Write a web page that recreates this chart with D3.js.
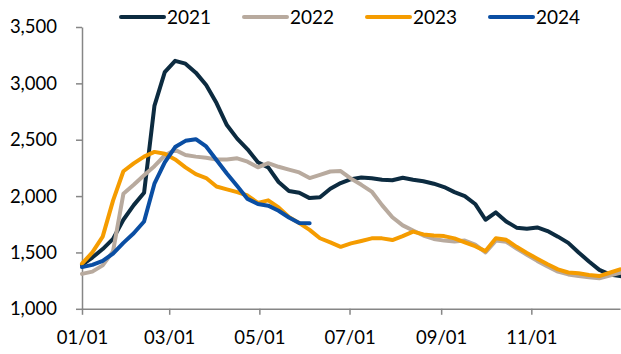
<!DOCTYPE html>
<html>
<head>
<meta charset="utf-8">
<script src="https://cdn.jsdelivr.net/npm/d3@7"></script>
<style>
  html, body { margin: 0; padding: 0; background: #fff; }
  svg { display: block; font-family: Lato, "Noto Sans", sans-serif; }
</style>
</head>
<body>
<div id="chart"></div>
<script>
// ---- data (weekly observations, week 0 = 01/01) ----
const seriesNames = ["2021", "2022", "2023", "2024"];
const v2021 = [1390,1455,1530,1620,1790,1920,2030,2800,3100,3200,3175,3095,2985,2825,2630,2510,2415,2300,2255,2125,2045,2030,1982,1990,2065,2115,2150,2165,2158,2145,2140,2163,2145,2132,2110,2080,2035,2000,1930,1790,1855,1775,1720,1710,1722,1690,1640,1585,1500,1420,1345,1305,1290];
const v2022 = [1310,1330,1385,1510,2020,2100,2185,2265,2360,2410,2365,2350,2340,2325,2325,2335,2305,2255,2292,2260,2235,2210,2160,2188,2218,2222,2155,2100,2040,1920,1812,1740,1695,1650,1620,1605,1598,1605,1570,1500,1605,1595,1535,1480,1425,1375,1330,1305,1290,1280,1270,1295,1320];
const v2023 = [1400,1500,1640,1960,2220,2290,2350,2392,2375,2325,2255,2195,2160,2085,2060,2035,2005,1940,1962,1900,1815,1760,1700,1626,1590,1550,1580,1602,1625,1625,1610,1645,1685,1660,1650,1645,1625,1590,1555,1512,1625,1612,1550,1495,1445,1395,1350,1322,1315,1300,1290,1320,1350];
const v2024 = [1370,1390,1425,1490,1585,1670,1775,2110,2300,2435,2490,2505,2440,2320,2200,2090,1975,1930,1915,1870,1810,1762,1760];
const yTicks = [1000, 1500, 2000, 2500, 3000, 3500];
const xTickLabels = ["01/01", "03/01", "05/01", "07/01", "09/01", "11/01"];
const colors = ["#0c2b40", "#b8aa9e", "#f59c00", "#0a4ea3"];

// ---- layout ----
const W = 621, H = 354;
const mLeft = 82, mRight = 620, mTop = 27, mBottom = 308.8;

const start = new Date(2021, 0, 1);
const end = new Date(2021, 11, 31);
const weekDate = i => d3.timeDay.offset(start, 7 * i);

const x = d3.scaleTime().domain([start, end]).range([mLeft, mRight]);
const y = d3.scaleLinear().domain([1000, 3500]).range([mBottom, mTop]);

const svg = d3.select("#chart").append("svg").attr("width", W).attr("height", H);

// y axis
const yAxis = svg.append("g").attr("transform", `translate(${mLeft},0)`)
  .call(d3.axisLeft(y).tickValues(yTicks).tickFormat(d3.format(",")).tickSize(6).tickSizeOuter(0).tickPadding(19));
yAxis.select(".domain").attr("stroke", "#868686").attr("stroke-width", 1.5);
yAxis.selectAll(".tick line").attr("stroke", "#868686").attr("stroke-width", 1.5);
yAxis.selectAll(".tick text").attr("font-size", 18.5).attr("fill", "#000").attr("font-family", "Lato, 'Noto Sans', sans-serif");

// x axis
const xTickDates = xTickLabels.map(s => new Date(2021, +s.slice(0, 2) - 1, +s.slice(3)));
const xAxis = svg.append("g").attr("transform", `translate(0,${mBottom})`)
  .call(d3.axisBottom(x).tickValues(xTickDates).tickFormat((d, i) => xTickLabels[i]).tickSize(6).tickSizeOuter(0).tickPadding(16));
xAxis.select(".domain").attr("stroke", "#868686").attr("stroke-width", 1.5);
xAxis.selectAll(".tick line").attr("stroke", "#868686").attr("stroke-width", 1.5);
xAxis.selectAll(".tick text").attr("font-size", 18.5).attr("fill", "#000").attr("font-family", "Lato, 'Noto Sans', sans-serif");

// lines
const line = d3.line().x((d, i) => x(weekDate(i))).y(d => y(d));
const allSeries = [v2021, v2022, v2023, v2024];
svg.append("g").selectAll("path").data(allSeries).join("path")
  .attr("d", d => line(d))
  .attr("fill", "none")
  .attr("stroke", (d, i) => colors[i])
  .attr("stroke-width", 4)
  .attr("stroke-linejoin", "round")
  .attr("stroke-linecap", "round");

// legend
const legend = svg.append("g").attr("transform", "translate(121,17)");
const item = legend.selectAll("g").data(seriesNames).join("g")
  .attr("transform", (d, i) => `translate(${i * 123},0)`);
item.append("line").attr("x1", 0).attr("x2", 43).attr("y1", 0).attr("y2", 0)
  .attr("stroke", (d, i) => colors[i]).attr("stroke-width", 4).attr("stroke-linecap", "round");
item.append("text").attr("x", 46).attr("y", 0).attr("dy", "0.35em")
  .attr("font-size", 19).attr("fill", "#000").text(d => d);
</script>
</body>
</html>
